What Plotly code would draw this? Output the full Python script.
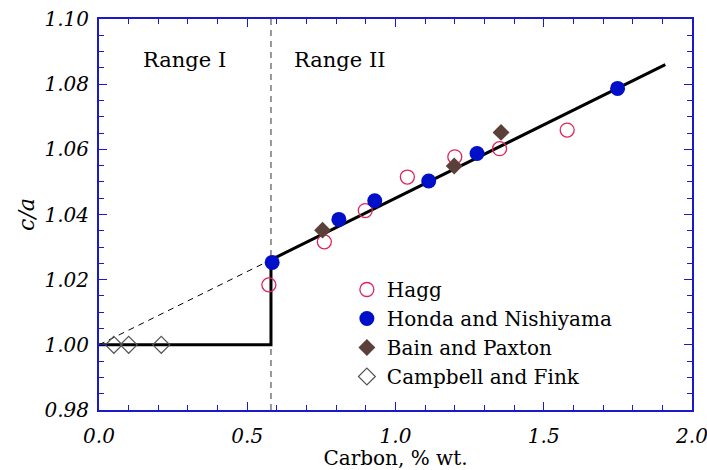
import plotly.graph_objects as go

# ---- data ----
hagg_x = [0.573, 0.760, 0.898, 1.040, 1.200, 1.351, 1.579]
hagg_y = [1.0184, 1.0316, 1.0412, 1.0515, 1.0577, 1.0602, 1.0659]

honda_x = [0.584, 0.809, 0.930, 1.112, 1.275, 1.749]
honda_y = [1.0253, 1.0385, 1.0442, 1.0503, 1.0587, 1.0787]

bain_x = [0.754, 1.198, 1.356]
bain_y = [1.0352, 1.0549, 1.0652]

campbell_x = [0.05, 0.10, 0.21]
campbell_y = [1.000, 1.000, 1.000]

# fitted / model lines
step_x = [0.0, 0.58, 0.58, 1.91]
step_y = [1.000, 1.000, 1.0261, 1.0860]
ext_x = [0.0, 0.58]
ext_y = [1.000, 1.0261]
boundary_x = 0.58

range_labels = ["Range I", "Range II"]
range_label_x = [0.29, 0.81]
range_label_y = 1.0874

x_range = [0.0, 2.0]
y_range = [0.98, 1.10]

AX = "#1a1acc"
SERIF = "DejaVu Serif"

fig = go.Figure()

fig.add_trace(go.Scatter(x=ext_x, y=ext_y, mode="lines",
                         line=dict(color="black", width=1, dash="6px,5px"),
                         showlegend=False, hoverinfo="skip"))
fig.add_trace(go.Scatter(x=step_x, y=step_y, mode="lines",
                         line=dict(color="black", width=3),
                         showlegend=False, hoverinfo="skip"))

fig.add_trace(go.Scatter(x=hagg_x, y=hagg_y, mode="markers", name="Hagg",
                         legendgroup="a",
                         marker=dict(symbol="circle-open", size=14,
                                     color="#e0245a", line=dict(width=1.3))))
fig.add_trace(go.Scatter(x=honda_x, y=honda_y, mode="markers", name="Honda and Nishiyama",
                         legendgroup="b",
                         marker=dict(symbol="circle", size=15, color="#0010c8")))
fig.add_trace(go.Scatter(x=bain_x, y=bain_y, mode="markers", name="Bain and Paxton",
                         legendgroup="c",
                         marker=dict(symbol="diamond", size=13, color="#5b4039")))
fig.add_trace(go.Scatter(x=campbell_x, y=campbell_y, mode="markers", name="Campbell and Fink",
                         legendgroup="d",
                         marker=dict(symbol="diamond-open", size=13, color="#555555",
                                     line=dict(width=1.2))))

fig.add_shape(type="line", x0=boundary_x, x1=boundary_x, y0=0, y1=1,
              xref="x", yref="paper",
              line=dict(color="#555555", width=1.2, dash="6px,5px"), layer="below")

for t, x in zip(range_labels, range_label_x):
    fig.add_annotation(x=x, y=range_label_y, text=t, showarrow=False,
                       font=dict(family=SERIF, size=21, color="black"))

axis_common = dict(
    showline=True, linecolor=AX, linewidth=2, mirror="allticks",
    ticks="inside", tickcolor=AX, tickwidth=1.2, ticklen=8,
    showgrid=False, zeroline=False, automargin=False,
    ticklabeloverflow="allow",
    tickfont=dict(family=SERIF, size=20, color="black", style="italic"),
)

fig.update_xaxes(range=x_range, dtick=0.5, tickformat=".1f", ticklabelstandoff=7,
                 minor=dict(dtick=0.1, ticks="inside", ticklen=5, tickcolor=AX, tickwidth=1.2),
                 title=dict(text="Carbon, % wt.", font=dict(family=SERIF, size=20, color="black"),
                            standoff=10),
                 **axis_common)
fig.update_yaxes(range=y_range, dtick=0.02, tickformat=".2f", ticklabelstandoff=4,
                 minor=dict(dtick=0.005, ticks="inside", ticklen=5, tickcolor=AX, tickwidth=1.2),
                 title=dict(text="c/a", font=dict(family=SERIF, size=22, color="black", style="italic"),
                            standoff=4),
                 **axis_common)

fig.update_layout(
    width=707, height=470,
    margin=dict(l=99, r=15, t=19, b=60),
    paper_bgcolor="white", plot_bgcolor="white",
    showlegend=True,
    legend=dict(x=0.418, y=0.358, xanchor="left", yanchor="top",
                bgcolor="rgba(0,0,0,0)", font=dict(family=SERIF, size=20, color="black"),
                tracegroupgap=0, itemwidth=30),
)

fig.write_html("out.html")
